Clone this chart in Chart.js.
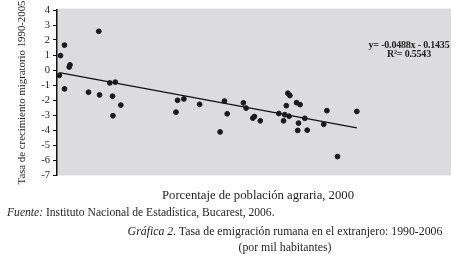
<!DOCTYPE html>
<html>
<head>
<meta charset="utf-8">
<script src="https://cdn.jsdelivr.net/npm/chart.js@4"></script>
<style>
  body { margin: 0; background: #fff; }
  .wrap { position: relative; width: 466px; height: 275px; font-family: "Liberation Serif", serif; color: #1e1e1e; }
  canvas { position: absolute; left: 0; top: 0; }
  .txt { position: absolute; white-space: nowrap; }
  .c { transform: translateX(-50%); text-align: center; }
</style>
</head>
<body>
<div class="wrap">
  <canvas id="chart" width="466" height="275"></canvas>
  <div class="txt c" style="left:409px; top:40px; font-size:10px; line-height:9px; font-weight:bold; letter-spacing:-0.2px;">
    y= -0.0488x - 0.1435<br>R²= 0.5543
  </div>
  <div class="txt c" style="left:258px; top:187px; font-size:12.7px; line-height:16px;">Porcentaje de población agraria, 2000</div>
  <div class="txt" style="left:7px; top:205px; font-size:11.6px; line-height:15px;"><i>Fuente:</i> Instituto Nacional de Estadística, Bucarest, 2006.</div>
  <div class="txt c" style="left:285px; top:223px; font-size:11.8px; line-height:16px;"><i>Gráfica 2.</i> Tasa de emigración rumana en el extranjero: 1990-2006<br>(por mil habitantes)</div>
</div>
<script>
// % poblacion agraria (x) y tasa de crecimiento migratorio (y)
const agrario = [10.6, 1.9, 0.9, 3.3, 3.1, 0.6, 1.9, 8.0, 10.8, 13.4, 14.8, 14.1, 16.2, 14.2,
  30.6, 32.2, 30.2, 36.2, 42.5, 43.2, 41.4, 47.3, 48.0, 49.7, 50.1, 51.6,
  56.3, 57.5, 57.8, 58.9, 58.2, 58.6, 59.1, 60.8, 61.7, 62.9, 61.3, 61.1, 63.5,
  67.7, 68.5, 76.1, 71.2];
const migratorio = [2.58, 1.66, 0.96, 0.34, 0.20, -0.36, -1.26, -1.48, -1.66, -0.86, -0.81, -1.75, -2.34, -3.05,
  -2.02, -1.93, -2.81, -2.29, -2.07, -2.92, -4.13, -2.19, -2.54, -3.21, -3.10, -3.39,
  -2.90, -3.39, -2.98, -3.08, -2.38, -1.55, -1.70, -2.18, -2.31, -3.22, -3.54, -4.03, -4.01,
  -3.62, -2.71, -2.76, -5.77];
const pendiente = -0.0488;
const intercepto = -0.1435;
const yMin = -7, yMax = 4;

const puntos = agrario.map((x, i) => ({ x: x, y: migratorio[i] }));
const xLo = Math.min(...agrario), xHi = Math.max(...agrario);
const tendencia = [xLo, xHi].map(x => ({ x: x, y: pendiente * x + intercepto }));

const fondoGris = {
  id: 'fondoGris',
  beforeDraw(chart) {
    const { ctx, chartArea } = chart;
    ctx.save();
    ctx.fillStyle = '#dcdcde';
    ctx.fillRect(chartArea.left, chartArea.top - 1.5, chartArea.right - chartArea.left, chartArea.bottom - chartArea.top + 2);
    ctx.restore();
  }
};

new Chart(document.getElementById('chart'), {
  type: 'scatter',
  data: {
    datasets: [{
      data: puntos,
      backgroundColor: '#1a1a1a',
      borderColor: '#1a1a1a',
      pointRadius: 2.4,
      order: 1
    }, {
      type: 'line',
      data: tendencia,
      borderColor: '#111',
      borderWidth: 1.3,
      pointRadius: 0,
      fill: false,
      order: 2
    }]
  },
  options: {
    responsive: false,
    animation: false,
    layout: { padding: { left: 7, right: 15, top: 10, bottom: 100 } },
    plugins: { legend: { display: false }, tooltip: { enabled: false } },
    scales: {
      x: { type: 'linear', min: 0, max: 100, display: false },
      y: {
        min: yMin, max: yMax,
        afterFit: (scale) => { scale.width = 50; },
        ticks: { stepSize: 1, autoSkip: false, color: '#1e1e1e', padding: 3, font: { family: 'Liberation Serif', size: 10.5 } },
        grid: { drawOnChartArea: false, tickLength: 4, color: '#111', tickWidth: 1 },
        border: { color: '#111', width: 1.5 },
        title: {
          display: true,
          text: 'Tasa de crecimiento migratorio 1990-2005',
          color: '#1e1e1e',
          padding: { top: 9, bottom: 0 },
          font: { family: 'Liberation Serif', size: 10.8 }
        }
      }
    }
  },
  plugins: [fondoGris]
});
</script>
</body>
</html>
